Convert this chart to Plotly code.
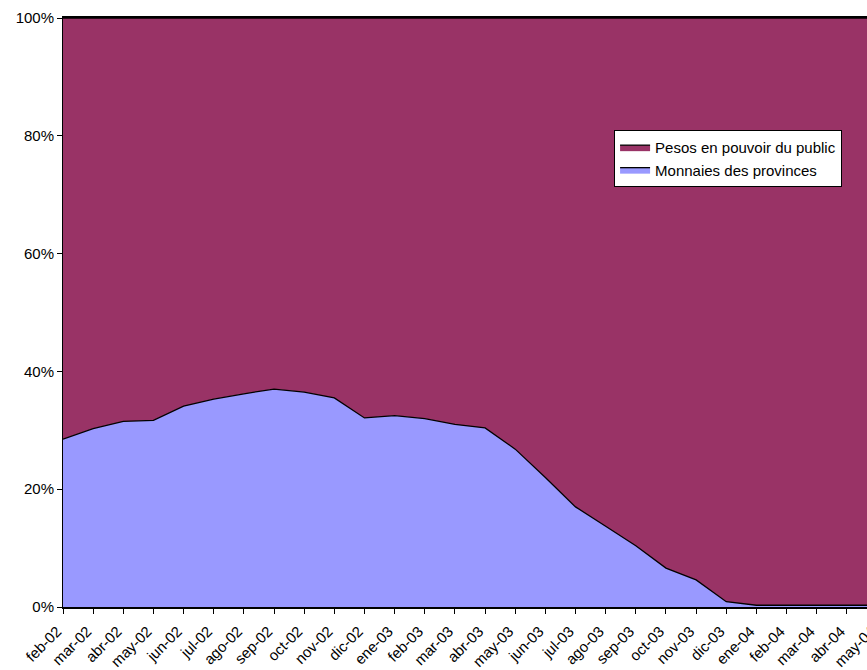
import plotly.graph_objects as go

months = ["feb-02", "mar-02", "abr-02", "may-02", "jun-02", "jul-02", "ago-02", "sep-02",
          "oct-02", "nov-02", "dic-02", "ene-03", "feb-03", "mar-03", "abr-03", "may-03",
          "jun-03", "jul-03", "ago-03", "sep-03", "oct-03", "nov-03", "dic-03", "ene-04",
          "feb-04", "mar-04", "abr-04", "may-04"]

# share (%) of provincial currencies in money held by the public
provinces = [28.5, 30.3, 31.5, 31.7, 34.1, 35.3, 36.2, 37.0,
             36.5, 35.5, 32.1, 32.5, 32.0, 31.0, 30.4, 26.8,
             22.0, 17.0, 13.7, 10.4, 6.6, 4.6, 0.9, 0.3,
             0.3, 0.3, 0.3, 0.3]
# share (%) of pesos held by the public (100% stacked)
pesos = [round(100 - v, 1) for v in provinces]

y_ticks = [0, 20, 40, 60, 80, 100]
y_labels = ["0%", "20%", "40%", "60%", "80%", "100%"]

FONT = "Liberation Sans, Arial, sans-serif"
FS = 15

fig = go.Figure()
fig.add_trace(go.Scatter(
    x=months, y=provinces, name="Monnaies des provinces",
    mode="lines", stackgroup="one",
    line=dict(color="black", width=1.3),
    fillcolor="#9999FF",
))
fig.add_trace(go.Scatter(
    x=months, y=pesos, name="Pesos en pouvoir du public",
    mode="lines", stackgroup="one",
    line=dict(color="black", width=1.3),
    fillcolor="#993366",
))

fig.update_layout(
    width=880, height=670,
    margin=dict(l=63, r=3, t=18, b=63, autoexpand=False),
    paper_bgcolor="white", plot_bgcolor="white",
    font=dict(family=FONT, size=FS, color="black"),
    showlegend=True,
    legend=dict(
        x=0.677, y=0.81, xanchor="left", yanchor="top",
        bgcolor="white", bordercolor="black", borderwidth=1,
        traceorder="reversed",
        font=dict(family=FONT, size=FS, color="black"),
        itemwidth=30, tracegroupgap=0,
    ),
    xaxis=dict(
        type="category", range=[0, 27], automargin=False,
        showgrid=False, zeroline=False,
        showline=True, linecolor="black", linewidth=1.5, mirror=True,
        ticks="outside", ticklen=5, tickcolor="black", tickwidth=1,
        tickangle=-45, tickfont=dict(family=FONT, size=FS, color="black"),
        ticklabelshift=-6, ticklabelstandoff=3,
    ),
    yaxis=dict(
        range=[0, 100], tickvals=y_ticks, ticktext=y_labels, automargin=False,
        showgrid=False, zeroline=False,
        showline=True, linecolor="black", linewidth=1,
        ticks="outside", ticklen=5, tickcolor="black", tickwidth=1,
        tickfont=dict(family=FONT, size=FS, color="black"),
    ),
)

fig.write_html(
    "out.html",
    post_script="document.documentElement.style.overflow='hidden';"
                "document.body.style.overflow='hidden';document.body.style.margin='0';",
)
